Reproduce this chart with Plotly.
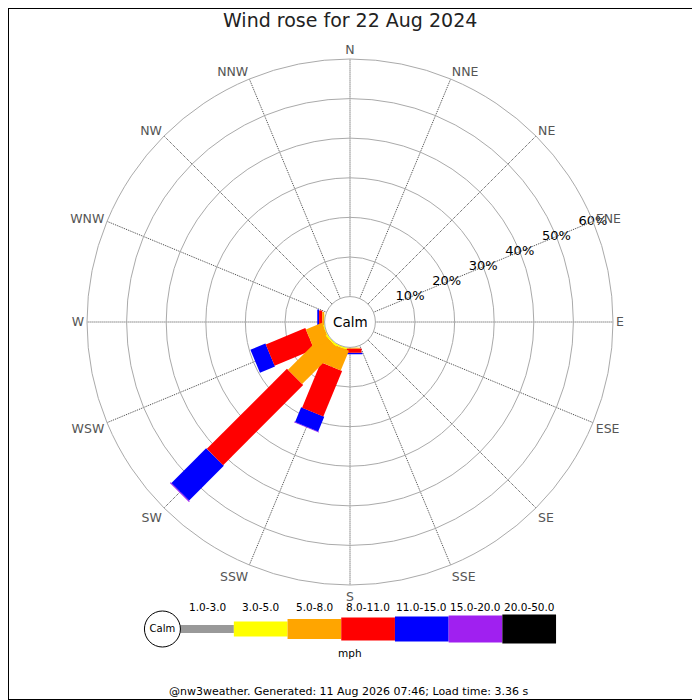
import math
import plotly.graph_objects as go

# ---------------- data ----------------
DIRECTIONS = ["N", "NNE", "NE", "ENE", "E", "ESE", "SE", "SSE",
              "S", "SSW", "SW", "WSW", "W", "WNW", "NW", "NNW"]
DIR_ANGLES = [0, 22.5, 45, 67.5, 90, 112.5, 135, 157.5,
              180, 202.5, 225, 247.5, 270, 292.5, 315, 337.5]

SPEED_BINS = ["1.0-3.0", "3.0-5.0", "5.0-8.0", "8.0-11.0",
              "11.0-15.0", "15.0-20.0", "20.0-50.0"]
SPEED_UNIT = "mph"

#              N  NNE NE ENE E ESE SE SSE  S     SSW   SW    WSW   W     WNW NW NNW
PCT_1_3   = [0, 0, 0, 0, 0, 0, 0, 0, 0.0,  0.0,  0.0,  0.0,  0.0,  0, 0, 0]
PCT_3_5   = [0, 0, 0, 0, 0, 0, 0, 0, 0.1,  0.4,  0.4,  0.2,  0.1,  0, 0, 0]
PCT_5_8   = [0, 0, 0, 0, 0, 0, 0, 0, 0.15, 5.4,  12.8, 4.4,  0.5,  0, 0, 0]
PCT_8_11  = [0, 0, 0, 0, 0, 0, 0, 0, 1.1,  12.4, 28.6, 10.8, 0.8,  0, 0, 0]
PCT_11_15 = [0, 0, 0, 0, 0, 0, 0, 0, 0.35, 4.0,  12.4, 4.1,  0.45, 0, 0, 0]
PCT_15_20 = [0, 0, 0, 0, 0, 0, 0, 0, 0.0,  0.2,  0.3,  0.0,  0.0,  0, 0, 0]
PCT_20_50 = [0, 0, 0, 0, 0, 0, 0, 0, 0.0,  0.0,  0.0,  0.0,  0.0,  0, 0, 0]
BIN_VALUES = [PCT_1_3, PCT_3_5, PCT_5_8, PCT_8_11, PCT_11_15, PCT_15_20, PCT_20_50]

RADIAL_TICKS = [10, 20, 30, 40, 50, 60]
RADIAL_LABELS = ["10%", "20%", "30%", "40%", "50%", "60%"]
R_MAX = 60

TITLE = "Wind rose for 22 Aug 2024"
CALM_LABEL = "Calm"
FOOTER = "@nw3weather. Generated: 11 Aug 2026 07:46; Load time: 3.36 s"

# ---------------- style / layout ----------------
FONT = "DejaVu Sans"
BIN_COLORS = ["#999999", "#ffff00", "#ffa500", "#ff0000", "#0000ff", "#a020f0", "#000000"]
BAR_WIDTH_PX = [8, 15, 20, 23, 25, 27, 29]

OFF = 8                    # page body margin (px)
W = H = 700 - OFF          # figure size so it fits the window


def px_x(sx):
    return (sx - OFF) / W


def px_y(sy):
    return 1 - (sy - OFF) / H


CX, CY = 350, 322          # rose centre (screen px)
R_OUT = 263                # outer ring radius (px)
HOLE_PX = 25.4             # calm circle radius (px)
K = (R_OUT - HOLE_PX) / R_MAX   # px per percent

# legend geometry (screen px)
LEG_UNIT = 53.7
LEG_X0 = -1.5
LEG_X1 = 6.6
LEG_GRAY_CX = 207
LEG_CY = 629
LEG_HALF = 40
CALM_X = -0.83

fig = go.Figure()


def rect_polygon(theta, start, end, width_px):
    """Rectangle (parallel-sided bar) along direction theta, in polar data coords."""
    h = width_px / 2.0
    a_s = HOLE_PX + start * K
    a_e = HOLE_PX + end * K
    rs, ts = [], []
    for a, side in [(a_s, -1), (a_e, -1), (a_e, 1), (a_s, 1), (a_s, -1)]:
        d = math.hypot(a, h)
        rs.append((d - HOLE_PX) / K)
        ts.append(theta + side * math.degrees(math.atan2(h, a)))
    return rs, ts


segments = {c: [] for c in range(len(SPEED_BINS))}
for i, ang in enumerate(DIR_ANGLES):
    cum = 0.0
    for c, vals in enumerate(BIN_VALUES):
        v = vals[i]
        if v > 0:
            segments[c].append((ang, cum, cum + v))
        cum += v

for c in reversed(range(len(SPEED_BINS))):
    for ang, s, e in segments[c]:
        rs, ts = rect_polygon(ang, s, e, BAR_WIDTH_PX[c])
        fig.add_trace(go.Scatterpolar(
            r=rs, theta=ts, mode="lines", fill="toself",
            fillcolor=BIN_COLORS[c], line=dict(width=0, color=BIN_COLORS[c]),
            hoverinfo="skip", showlegend=False))

fig.add_trace(go.Scatterpolar(
    r=RADIAL_TICKS, theta=[67.5] * len(RADIAL_TICKS), mode="text",
    text=RADIAL_LABELS, textfont=dict(family=FONT, size=13, color="#000"),
    cliponaxis=False, hoverinfo="skip", showlegend=False))

# legend
fig.add_trace(go.Bar(
    x=list(range(len(SPEED_BINS))), y=BAR_WIDTH_PX,
    base=[-w / 2 for w in BAR_WIDTH_PX], width=1,
    marker=dict(color=BIN_COLORS, line=dict(width=0)),
    xaxis="x", yaxis="y", hoverinfo="skip", showlegend=False))
fig.add_trace(go.Scatter(
    x=[CALM_X], y=[0], mode="markers+text", text=[CALM_LABEL],
    textposition="middle center",
    textfont=dict(family=FONT, size=10, color="#000"),
    marker=dict(size=36, color="white", line=dict(color="black", width=1)),
    xaxis="x", yaxis="y", hoverinfo="skip", showlegend=False, cliponaxis=False))

annotations = []
for i, lab in enumerate(SPEED_BINS):
    annotations.append(dict(x=i, y=22.3, xref="x", yref="y", text=lab, showarrow=False,
                            font=dict(family=FONT, size=10.5, color="#000"),
                            xanchor="center", yanchor="middle"))
annotations.append(dict(x=(CALM_X - 18 / LEG_UNIT + len(SPEED_BINS) - 0.5) / 2, y=-24.3,
                        xref="x", yref="y", text=SPEED_UNIT, showarrow=False,
                        font=dict(family=FONT, size=10.5, color="#000"),
                        xanchor="center", yanchor="middle"))
annotations.append(dict(x=px_x(350), y=px_y(20), xref="paper", yref="paper", text=TITLE,
                        showarrow=False, font=dict(family=FONT, size=19, color="#222"),
                        xanchor="center", yanchor="middle"))
annotations.append(dict(x=px_x(CX), y=px_y(CY), xref="paper", yref="paper", text=CALM_LABEL,
                        showarrow=False, font=dict(family=FONT, size=13.5, color="#000"),
                        xanchor="center", yanchor="middle"))
annotations.append(dict(x=px_x(348), y=px_y(691), xref="paper", yref="paper", text=FOOTER,
                        showarrow=False, font=dict(family=FONT, size=11, color="#000"),
                        xanchor="center", yanchor="middle"))

fig.update_layout(
    width=W, height=H, margin=dict(l=0, r=0, t=0, b=0),
    paper_bgcolor="white", plot_bgcolor="white",
    font=dict(family=FONT),
    showlegend=False,
    polar=dict(
        domain=dict(x=[px_x(CX - R_OUT), px_x(CX + R_OUT)],
                    y=[px_y(CY + R_OUT), px_y(CY - R_OUT)]),
        hole=HOLE_PX / R_OUT,
        bgcolor="white",
        radialaxis=dict(range=[0, R_MAX], tickmode="array", tickvals=[0] + RADIAL_TICKS,
                        showticklabels=False, ticks="", showline=False,
                        gridcolor="#aaaaaa", gridwidth=1),
        angularaxis=dict(rotation=90, direction="clockwise", tickmode="array",
                         tickvals=DIR_ANGLES, ticktext=DIRECTIONS, ticks="",
                         showline=True, linecolor="#aaaaaa", linewidth=1,
                         gridcolor="#444444", griddash="1px,1px", gridwidth=1,
                         tickfont=dict(family=FONT, size=12.5, color="#555"))),
    xaxis=dict(domain=[px_x(LEG_GRAY_CX + LEG_X0 * LEG_UNIT), px_x(LEG_GRAY_CX + LEG_X1 * LEG_UNIT)],
               range=[LEG_X0, LEG_X1], visible=False, fixedrange=True),
    yaxis=dict(domain=[px_y(LEG_CY + LEG_HALF), px_y(LEG_CY - LEG_HALF)],
               range=[-LEG_HALF, LEG_HALF], visible=False, fixedrange=True),
    annotations=annotations,
    shapes=[dict(type="rect", xref="paper", yref="paper", x0=0, y0=0, x1=1, y1=1,
                 line=dict(color="black", width=2), fillcolor="rgba(0,0,0,0)")],
)

fig.write_html("out.html")
